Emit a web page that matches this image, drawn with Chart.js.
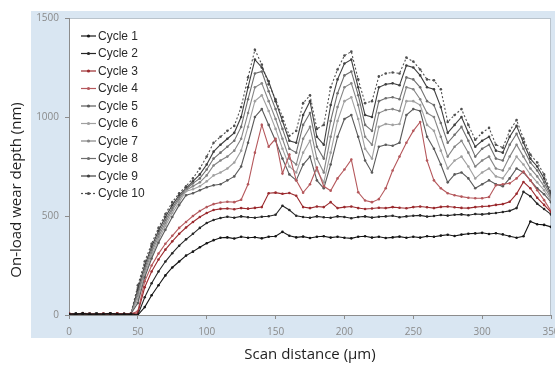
<!DOCTYPE html>
<html>
<head>
<meta charset="utf-8">
<script src="https://cdn.jsdelivr.net/npm/chart.js@4.4.1/dist/chart.umd.min.js"></script>
<style>
  body { margin: 0; background: #fff; }
</style>
</head>
<body>
<canvas id="wearChart" width="555" height="365"></canvas>
<script>
// Scan distance (µm), one reading every 5 µm
const distances = [0, 5, 10, 15, 20, 25, 30, 35, 40, 45,
    50, 55, 60, 65, 70, 75, 80, 85, 90, 95,
    100, 105, 110, 115, 120, 125, 130, 135, 140, 145,
    150, 155, 160, 165, 170, 175, 180, 185, 190, 195,
    200, 205, 210, 215, 220, 225, 230, 235, 240, 245,
    250, 255, 260, 265, 270, 275, 280, 285, 290, 295,
    300, 305, 310, 315, 320, 325, 330, 335, 340, 345, 350];

// On-load wear depth (nm) per cycle
const cycle1 = [5, 3, 8, 2, 6, 4, 7, 3, 5, 2,
    0, 40, 100, 150, 200, 240, 270, 300, 320, 342,
    362, 378, 390, 392, 386, 395, 390, 393, 387, 395,
    398, 420, 400, 392, 396, 389, 395, 398, 391, 395,
    390, 387, 395, 398, 391, 395, 389, 392, 396, 390,
    395, 391, 398, 395, 401, 405, 399, 406, 410, 412,
    415, 409, 413, 407, 398, 390, 398, 472, 458, 455, 445];
const cycle2 = [4, 7, 3, 6, 2, 5, 8, 4, 3, 6,
    0, 90, 160, 220, 270, 312, 350, 382, 410, 440,
    465, 480, 490, 496, 491, 498, 494, 491, 496, 499,
    506, 552, 530, 501, 495, 491, 498, 494, 491, 498,
    495, 489, 495, 498, 492, 496, 498, 501, 494, 498,
    501, 503, 497, 500, 505, 502, 506, 508, 504, 510,
    508, 512, 515, 520, 526, 540, 622, 600, 562, 535, 508];
const cycle3 = [6, 4, 9, 5, 3, 7, 4, 8, 5, 7,
    10, 140, 220, 280, 330, 372, 410, 442, 470, 495,
    515, 530, 536, 538, 534, 540, 537, 541, 545, 615,
    618, 612, 616, 602, 545, 540, 548, 545, 570, 540,
    545, 548, 540, 535, 538, 542, 540, 545, 542, 539,
    545, 548, 544, 540, 546, 548, 544, 541, 540, 545,
    548, 550, 556, 560, 572, 612, 672, 640, 592, 556, 520];
const cycle4 = [8, 5, 3, 7, 4, 6, 9, 3, 6, 4,
    20, 170, 250, 310, 360, 400, 440, 470, 500, 525,
    545, 560, 568, 572, 570, 582, 660, 820, 960, 850,
    890, 715, 810, 680, 618, 660, 745, 650, 628, 690,
    735, 785, 620, 578, 570, 585, 640, 730, 800, 870,
    930, 975, 780, 680, 640, 615, 605, 598, 592, 590,
    590, 596, 655, 660, 665, 690, 725, 680, 630, 580, 525];
const cycle5 = [5, 8, 4, 6, 9, 3, 5, 7, 4, 6,
    60, 190, 285, 365, 430, 495, 555, 605, 615, 630,
    645, 655, 660, 680, 700, 750, 870, 1000, 1040, 960,
    880, 790, 710, 680, 760, 800, 680, 640, 760, 900,
    990, 1010, 900, 780, 720, 850, 860, 855, 870, 1010,
    1040, 1030, 900, 840, 760, 670, 710, 720, 690, 640,
    660, 680, 660, 650, 690, 740, 720, 680, 640, 610, 570];
const cycle6 = [7, 4, 6, 9, 5, 8, 4, 6, 3, 8,
    80, 205, 300, 380, 450, 515, 570, 625, 635, 650,
    675, 705, 720, 740, 770, 830, 950, 1080, 1110, 1030,
    940, 840, 750, 720, 820, 880, 730, 670, 820, 980,
    1080, 1100, 990, 840, 790, 950, 965, 960, 965, 1080,
    1080, 1060, 960, 930, 830, 740, 780, 800, 750, 690,
    720, 740, 700, 690, 740, 800, 760, 710, 670, 630, 580];
const cycle7 = [4, 6, 9, 5, 7, 3, 8, 5, 6, 4,
    100, 220, 315, 395, 465, 530, 585, 630, 650, 670,
    705, 755, 780, 800, 830, 890, 1020, 1150, 1170, 1080,
    990, 890, 790, 760, 890, 950, 790, 720, 900, 1050,
    1150, 1170, 1060, 900, 860, 1020, 1035, 1040, 1030, 1150,
    1140, 1090, 1020, 1000, 900, 800, 850, 880, 820, 750,
    780, 800, 740, 730, 800, 860, 800, 740, 700, 650, 590];
const cycle8 = [6, 3, 7, 5, 8, 4, 6, 9, 5, 7,
    110, 235, 330, 410, 480, 540, 595, 635, 665, 690,
    735, 790, 820, 850, 880, 950, 1090, 1220, 1230, 1130,
    1040, 940, 840, 820, 960, 1020, 850, 790, 980, 1120,
    1210, 1230, 1110, 960, 930, 1080, 1095, 1100, 1090, 1200,
    1190, 1150, 1080, 1060, 970, 870, 910, 950, 880, 800,
    840, 860, 790, 780, 860, 915, 840, 770, 730, 670, 600];
const cycle9 = [5, 7, 4, 8, 3, 6, 5, 4, 7, 5,
    130, 250, 345, 425, 495, 555, 605, 640, 675, 710,
    760, 825, 860, 890, 920, 1000, 1150, 1290, 1250, 1180,
    1080, 980, 880, 870, 1010, 1080, 900, 860, 1060, 1190,
    1270, 1290, 1150, 1010, 1000, 1150, 1165, 1170, 1160, 1260,
    1250, 1210, 1150, 1140, 1050, 920, 960, 1000, 920, 850,
    880, 900, 830, 820, 900, 955, 870, 790, 750, 690, 610];
const cycle10 = [8, 5, 10, 6, 8, 4, 7, 5, 6, 8,
    150, 270, 360, 440, 510, 570, 615, 650, 690, 740,
    800, 870, 900, 930, 955, 1050, 1200, 1340, 1265, 1165,
    1090, 1000, 905, 930, 1070, 1110, 940, 960, 1150, 1240,
    1310, 1330, 1190, 1070, 1080, 1205, 1220, 1225, 1220, 1300,
    1280, 1240, 1190, 1185, 1140, 975, 1010, 1040, 960, 885,
    920, 945, 860, 845, 930, 985, 890, 810, 770, 710, 620];

const cycleNames = ['Cycle 1', 'Cycle 2', 'Cycle 3', 'Cycle 4', 'Cycle 5',
    'Cycle 6', 'Cycle 7', 'Cycle 8', 'Cycle 9', 'Cycle 10'];
const cycleValues = [cycle1, cycle2, cycle3, cycle4, cycle5,
    cycle6, cycle7, cycle8, cycle9, cycle10];
const cycleColors = ['#151515', '#262626', '#9b2a2e', '#b5585c', '#5a5a5a',
    '#a0a0a0', '#858585', '#6e6e6e', '#3f3f3f', '#505050'];

const xTicks = [0, 50, 100, 150, 200, 250, 300, 350];
const yTicks = [0, 500, 1000, 1500];

const datasets = cycleValues.map((values, index) => ({
    label: cycleNames[index],
    data: values.map((v, i) => ({ x: distances[i], y: v })),
    borderColor: cycleColors[index],
    backgroundColor: cycleColors[index],
    borderWidth: 1.1,
    borderDash: index === 9 ? [2, 2] : [],
    pointRadius: 1.3,
    pointBorderWidth: 0,
    pointBackgroundColor: cycleColors[index],
    tension: 0
}));

// fond bleu du cadre + zone de tracé blanche
const panelBackground = {
    id: 'panelBackground',
    beforeDraw(chart) {
        const { ctx, chartArea } = chart;
        ctx.save();
        ctx.fillStyle = '#ffffff';
        ctx.fillRect(0, 0, chart.width, chart.height);
        ctx.fillStyle = '#d9e6f2';
        ctx.fillRect(31, 11, chart.width - 31, 327);
        ctx.fillStyle = '#ffffff';
        ctx.fillRect(chartArea.left, chartArea.top, chartArea.right - chartArea.left, chartArea.bottom - chartArea.top);
        ctx.strokeStyle = '#b9c3cc';
        ctx.lineWidth = 1;
        ctx.strokeRect(chartArea.left + 0.5, chartArea.top + 0.5, chartArea.right - chartArea.left - 1, chartArea.bottom - chartArea.top);
        ctx.restore();
    }
};

// légende dessinée dans la zone de tracé, en colonne
const cycleLegend = {
    id: 'cycleLegend',
    afterDatasetsDraw(chart) {
        const { ctx, chartArea } = chart;
        const x0 = chartArea.left + 12;
        ctx.save();
        ctx.font = '12px "Liberation Sans", Arial, sans-serif';
        ctx.textBaseline = 'middle';
        chart.data.datasets.forEach((ds, i) => {
            const y = 36 + i * 17.5;
            ctx.strokeStyle = ds.borderColor;
            ctx.lineWidth = 1.2;
            ctx.setLineDash(ds.borderDash);
            ctx.beginPath();
            ctx.moveTo(x0, y);
            ctx.lineTo(x0 + 15, y);
            ctx.stroke();
            ctx.setLineDash([]);
            ctx.fillStyle = ds.borderColor;
            ctx.beginPath();
            ctx.arc(x0 + 7.5, y, 1.6, 0, Math.PI * 2);
            ctx.fill();
            ctx.fillStyle = '#2a2a2a';
            ctx.fillText(ds.label, x0 + 17, y + 0.5);
        });
        ctx.restore();
    }
};

const yAxisTitle = {
    id: 'yAxisTitle',
    afterDraw(chart) {
        const { ctx } = chart;
        ctx.save();
        ctx.translate(17, 190);
        ctx.rotate(-Math.PI / 2);
        ctx.font = '15px "Open Sans", sans-serif';
        ctx.fillStyle = '#1e1e1e';
        ctx.textAlign = 'center';
        ctx.textBaseline = 'middle';
        ctx.fillText('On-load wear depth (nm)', 0, 0);
        ctx.restore();
    }
};

new Chart(document.getElementById('wearChart').getContext('2d'), {
    type: 'line',
    data: { datasets: datasets },
    options: {
        responsive: false,
        animation: false,
        layout: { padding: { left: 0, top: 18, right: 2, bottom: 0 } },
        plugins: {
            legend: { display: false },
            tooltip: { enabled: false }
        },
        scales: {
            x: {
                type: 'linear',
                min: 0,
                max: 350,
                afterBuildTicks: (scale) => { scale.ticks = xTicks.map(v => ({ value: v })); },
                afterFit: (scale) => { scale.height = 50; scale.paddingLeft = 0; scale.paddingRight = 0; },
                grid: { drawOnChartArea: false, tickLength: 4, color: '#8c8c8c' },
                border: { color: '#8c8c8c' },
                ticks: {
                    color: '#8a8a8a',
                    font: { size: 10, family: '"Open Sans", sans-serif' },
                    padding: 7,
                    maxRotation: 0,
                    callback: (value) => String(value)
                },
                title: {
                    display: true,
                    text: 'Scan distance (µm)',
                    color: '#1e1e1e',
                    font: { size: 15, family: '"Open Sans", sans-serif' },
                    padding: { top: 1, bottom: 1 }
                }
            },
            y: {
                min: 0,
                max: 1500,
                afterBuildTicks: (scale) => { scale.ticks = yTicks.map(v => ({ value: v })); },
                afterFit: (scale) => { scale.width = 69; scale.paddingTop = 0; scale.paddingBottom = 0; },
                grid: { drawOnChartArea: false, tickLength: 4, color: '#8c8c8c' },
                border: { color: '#8c8c8c' },
                ticks: {
                    color: '#8a8a8a',
                    font: { size: 10, family: '"Open Sans", sans-serif' },
                    padding: 6,
                    callback: (value) => String(value)
                }
            }
        }
    },
    plugins: [panelBackground, cycleLegend, yAxisTitle]
});
</script>
</body>
</html>
